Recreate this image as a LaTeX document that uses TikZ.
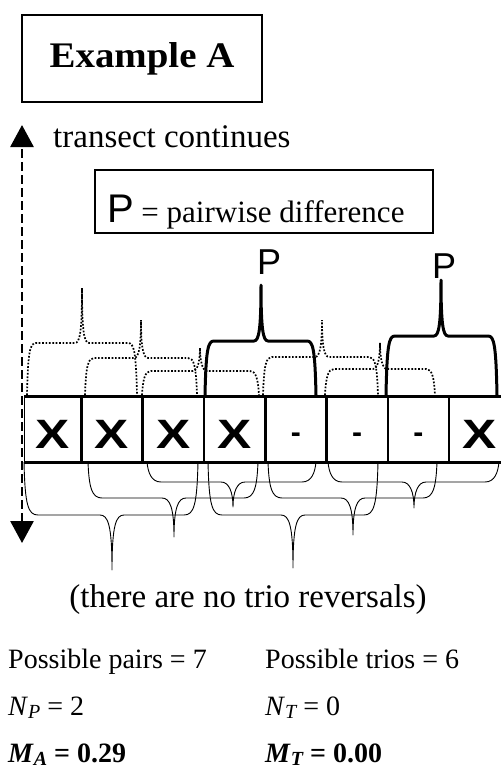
\documentclass[tikz,border=0pt]{standalone}
\usepackage{fontspec}
\setmainfont{Liberation Serif}
\setsansfont{Liberation Sans}
\usetikzlibrary{arrows.meta,positioning}

\newcommand\fsz[1]{\fontsize{#1}{#1}\selectfont}
% cell contents
\newcommand\cellX{{\sffamily\bfseries\fsz{41}\scalebox{1.25}[1]{X}}}
\newcommand\cellD{\raisebox{6pt}{\sffamily\bfseries\fsz{30}-}}

% pair brace above the row: style, left leg x, right leg x, peak x, flat y, tip y
\newcommand\pairbrace[6]{%
  \draw[#1] (#2,395) .. controls (#2+1,#5+8) and (#2+3,#5) .. (#2+9,#5)
    -- (#4-7,#5) .. controls (#4-2,#5) and (#4,#5-12) .. (#4,#6)
    .. controls (#4,#5-12) and (#4+2,#5) .. (#4+7,#5)
    -- (#3-9,#5) .. controls (#3-3,#5) and (#3-1,#5+8) .. (#3,395);}

% trio brace below the row: left leg x, right leg x, cusp x, flat y, tip y
\newcommand\triobrace[5]{%
  \draw[trio] (#1,462) .. controls (#1+1,#4-10) and (#1+4,#4) .. (#1+14,#4)
    -- (#3-12,#4) .. controls (#3-4,#4) and (#3,#4+10) .. (#3,#5)
    .. controls (#3,#4+10) and (#3+4,#4) .. (#3+12,#4)
    -- (#2-14,#4) .. controls (#2-4,#4) and (#2-1,#4-10) .. (#2,462);}

\tikzset{
  cell/.style={draw, line width=1.3pt, minimum width=60pt, minimum height=65pt,
    inner sep=0pt, text height=37pt, text depth=0pt},
  pairdot/.style={line width=1.7pt, dash pattern=on 1.7pt off 1.7pt},
  pairhit/.style={line width=3pt, line join=round},
  trio/.style={line width=0.9pt, line join=round},
  lbl/.style={inner sep=0pt, anchor=base west},
  transect/.style={line width=2.8pt, dash pattern=on 9pt off 4pt,
    {Triangle[width=23pt,length=22pt]}-{Triangle[width=23pt,length=22pt]}},
}

\begin{document}
\begin{tikzpicture}[x=1pt,y=-1pt]
\useasboundingbox (0,0) rectangle (501,769);

% title
\node[draw, line width=2.2pt, minimum width=240pt, minimum height=87pt, inner sep=0pt]
  (title) at (142,58.5) {\fsz{36}\bfseries\scalebox{1.08}[1]{Example A}};

% transect direction
\coordinate (up) at (22,125);
\coordinate (down) at (22,543);
\draw[transect] (down) -- (up);
\node[lbl] (cont) at (53,147) {\fsz{33}transect continues};

% legend
\node[draw, line width=1.2pt, minimum width=338pt, minimum height=63pt,
  inner xsep=12pt, inner ysep=0pt, text height=41pt, text depth=0pt,
  font=\fsz{31}] (legend) at (264,201.5)
  {\makebox[314pt][l]{{\sffamily\fsz{40}P} = pairwise difference}};

% the row of samples
\node[cell, minimum width=56pt, anchor=west] (c1) at (24,429.5) {\cellX};
\node[cell, right=0pt of c1] (c2) {\cellX};
\node[cell, right=0pt of c2] (c3) {\cellX};
\node[cell, right=0pt of c3] (c4) {\cellX};
\node[cell, right=0pt of c4] (c5) {\cellD};
\node[cell, right=0pt of c5] (c6) {\cellD};
\node[cell, right=0pt of c6] (c7) {\cellD};
\node[cell, right=0pt of c7] (c8) {\cellX};
\draw[line width=2pt] (c1.north west) -- (c8.north east);
\draw[line width=2pt] (c1.south west) -- (c8.south east);

% pair braces
\pairbrace{pairdot}{27}{137}{82}{343}{288}
\pairbrace{pairdot}{85}{197}{141}{358}{320}
\pairbrace{pairdot}{142}{259}{200}{371}{348}
\pairbrace{pairhit}{205}{316}{261}{341}{285}
\pairbrace{pairdot}{263}{378}{322}{357}{320}
\pairbrace{pairdot}{325}{435}{380}{369}{343}
\pairbrace{pairhit}{386}{497}{441}{336}{280}

\node[lbl] (p1) at (257,274) {\sffamily\fsz{36}P};
\node[lbl] (p2) at (432,278) {\sffamily\fsz{36}P};

% trio braces
\triobrace{24}{198}{112}{515}{570}
\triobrace{88}{258}{174}{498}{537}
\triobrace{147}{316}{233}{482}{507}
\triobrace{208}{378}{293}{515}{568}
\triobrace{268}{437}{353}{498}{535}
\triobrace{328}{499}{414}{482}{508}

\node[inner sep=0pt, anchor=base] (none) at (248,607) {\fsz{33}(there are no trio reversals)};

% summary
\node[lbl] (pairs) at (8,668) {\fsz{28}Possible pairs = 7};
\node[lbl] (trios) at (265,668) {\fsz{28}Possible trios = 6};
\node[lbl] (np) at (8,715) {\fsz{28}\textit{N}\raisebox{-3pt}{\fsz{20}\itshape P} = 2};
\node[lbl] (nt) at (265,715) {\fsz{28}\textit{N}\raisebox{-3pt}{\fsz{20}\itshape T} = 0};
\node[lbl] (ma) at (8,762) {\fsz{28}\bfseries\textit{M}\raisebox{-3pt}{\fsz{20}\bfseries\itshape A} = 0.29};
\node[lbl] (mt) at (265,762) {\fsz{28}\bfseries\textit{M}\raisebox{-3pt}{\fsz{20}\bfseries\itshape T} = 0.00};
\end{tikzpicture}
\end{document}
